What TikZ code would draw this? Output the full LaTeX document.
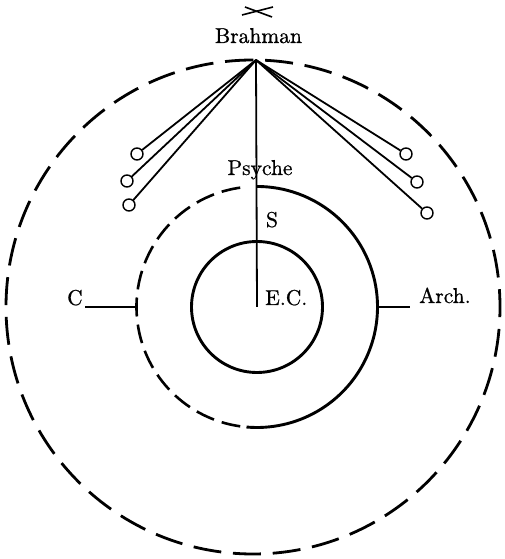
\documentclass[tikz,border=0pt]{standalone}
\usepackage{fontspec}
\newfontfamily\lblfont{lmroman10-regular.otf}[FakeBold=0.8]
\usetikzlibrary{calc}
\begin{document}
\begin{tikzpicture}[x=1pt,y=1pt,
  lbl/.style={font=\lblfont\fontsize{21.5}{25}\selectfont, inner sep=0pt},
  thinline/.style={line width=1.8pt},
  bead/.style={circle, draw, line width=1.4pt, minimum size=12pt, inner sep=0pt},
  heavy/.style={line width=2.9pt},
  outerdash/.style={line width=2.8pt, dash pattern=on 28pt off 11.79pt},
  innerdash/.style={line width=2.6pt, dash pattern=on 19pt off 8.16pt},
]
\useasboundingbox (0,0) rectangle (505,559);
\coordinate (O) at (253,252);
\coordinate (M) at (257,252);
\coordinate (apex) at (256,499);
% outer dashed circle
\draw[outerdash] (O) ++(90:247) arc[start angle=90, end angle=450, radius=247];
% middle circle: solid part and dashed part
\draw[heavy] (M) ++(90:120.5) arc[start angle=90, end angle=-95, radius=120.5];
\draw[innerdash] (M) ++(98:120.5) arc[start angle=98, end angle=262, radius=120.5];
% inner circle
\draw[heavy] (M) circle[radius=65.5];
% labels
\node[lbl, anchor=base] (brahman) at (258.5,516) {Brahman};
\node[lbl, anchor=base] (psyche) at (260,384) {Psyche};
\node[lbl, anchor=base] (s) at (272,332) {S};
\node[lbl, anchor=base west] (ec) at (265,254) {E.C.};
\node[lbl, anchor=base west] (c) at (67,254) {C};
\node[lbl, anchor=base west] (arch) at (419,256) {Arch.};
% cross above Brahman
\coordinate (x1) at (242,544);
\coordinate (x2) at (273,552);
\coordinate (x3) at (245,552);
\coordinate (x4) at (272,542);
\draw[line width=1.6pt] (x1) -- (x2);
\draw[line width=1.6pt] (x3) -- (x4);
% beads
\node[bead] (l1) at (137,405) {};
\node[bead] (l2) at (127,378) {};
\node[bead] (l3) at (129,354) {};
\node[bead] (r1) at (406,405) {};
\node[bead] (r2) at (417,377) {};
\node[bead] (r3) at (427,346) {};
\foreach \b in {l1,l2,l3,r1,r2,r3} \draw[thinline] (apex) -- (\b);
% vertical line from Brahman to E.C.
\draw[thinline] (apex) -- (M);
% C and Arch. connectors
\coordinate (cl) at ($(M)+(-120.5,0)$);
\coordinate (cr) at ($(M)+(120.5,0)$);
\draw[thinline] (cl) -- ([xshift=2pt]c.east |- cl);
\draw[thinline] (cr) -- ([xshift=-9pt]arch.west |- cr);
\end{tikzpicture}
\end{document}
